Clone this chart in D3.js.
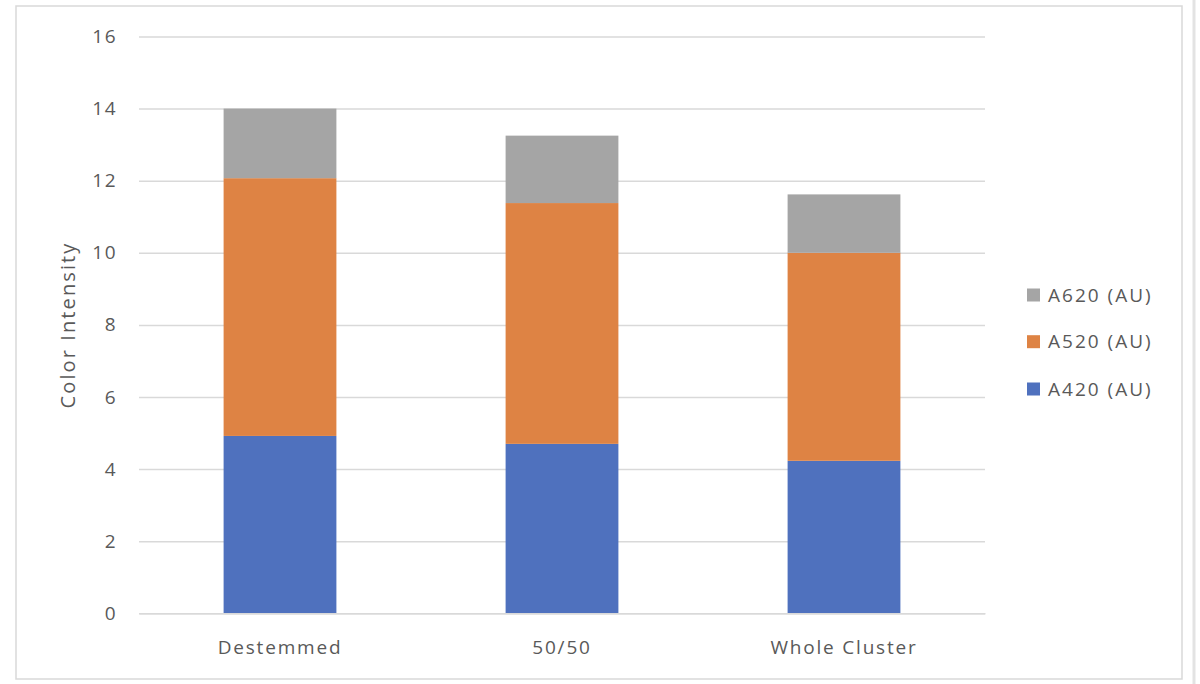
<!DOCTYPE html>
<html>
<head>
<meta charset="utf-8">
<script src="https://cdn.jsdelivr.net/npm/d3@7"></script>
<style>
  html, body { margin: 0; padding: 0; background: #fff; }
  svg { display: block; }
  text { font-family: "Open Sans", "Noto Sans", sans-serif; fill: #595959; }
</style>
</head>
<body>
<svg id="chart" width="1200" height="684"></svg>
<script>
const categories = ["Destemmed", "50/50", "Whole Cluster"];
const seriesNames = ["A420 (AU)", "A520 (AU)", "A620 (AU)"];
const a420 = [4.92, 4.70, 4.23];
const a520 = [7.15, 6.68, 5.77];
const a620 = [1.93, 1.87, 1.62];
const yTicks = [0, 2, 4, 6, 8, 10, 12, 14, 16];
const colors = ["#4F71BE", "#DE8344", "#A5A5A5"];

const svg = d3.select("#chart");
const FONT = '"Open Sans", "Noto Sans", sans-serif';

// outer frame
svg.append("rect").attr("x", 16).attr("y", 6).attr("width", 1166).attr("height", 673)
  .attr("fill", "#fff").attr("stroke", "#d9d9d9").attr("stroke-width", 1.5);
svg.append("line").attr("x1", 1194).attr("x2", 1194).attr("y1", 0).attr("y2", 684)
  .attr("stroke", "#e3e3e3").attr("stroke-width", 3);

const x = d3.scaleBand().domain(categories).range([139, 985]).paddingInner(0.6).paddingOuter(0.3);
const y = d3.scaleLinear().domain([0, 16]).range([613.3, 36.5]);

// gridlines + y labels
const yAxis = d3.axisLeft(y).tickValues(yTicks).tickSize(-(985 - 139)).tickPadding(22).tickFormat(d3.format("d"));
const gy = svg.append("g").attr("transform", "translate(139,0)").call(yAxis);
gy.select(".domain").remove();
gy.selectAll(".tick line").attr("stroke", "#d9d9d9").attr("stroke-width", 1.5);
gy.selectAll(".tick text").attr("font-size", 19).attr("fill", "#595959").attr("letter-spacing", 1.5)
  .style("font-family", FONT);

// stacked data
const table = categories.map((c, i) => ({ cat: c, "A420 (AU)": a420[i], "A520 (AU)": a520[i], "A620 (AU)": a620[i] }));
const stacked = d3.stack().keys(seriesNames)(table);

svg.append("g").selectAll("g").data(stacked).join("g")
  .attr("fill", (d, i) => colors[i])
  .selectAll("rect").data(d => d).join("rect")
  .attr("x", d => x(d.data.cat))
  .attr("width", x.bandwidth())
  .attr("y", d => y(d[1]))
  .attr("height", d => y(d[0]) - y(d[1]));

// x axis baseline + labels
const xAxis = d3.axisBottom(x).tickSize(0).tickPadding(27);
const gx = svg.append("g").attr("transform", "translate(0,613.3)").call(xAxis);
gx.select(".domain").attr("stroke", "#d9d9d9").attr("stroke-width", 1.5);
gx.selectAll(".tick text").attr("font-size", 19).attr("fill", "#595959").attr("letter-spacing", 1.8)
  .style("font-family", FONT);

// y axis title
svg.append("text")
  .attr("transform", "translate(75,325) rotate(-90)")
  .attr("text-anchor", "middle")
  .attr("font-size", 20)
  .attr("letter-spacing", 2.1)
  .text("Color Intensity");

// legend (reverse order: top A620)
const legendOrder = [2, 1, 0];
const legendY = [295, 341.7, 389];
const lg = svg.append("g");
legendOrder.forEach((si, k) => {
  lg.append("rect").attr("x", 1027).attr("y", legendY[k] - 6.5).attr("width", 13).attr("height", 13).attr("fill", colors[si]);
  lg.append("text").attr("x", 1048).attr("y", legendY[k]).attr("dy", "0.35em")
    .attr("font-size", 19).attr("letter-spacing", 2).text(seriesNames[si]);
});
</script>
</body>
</html>
